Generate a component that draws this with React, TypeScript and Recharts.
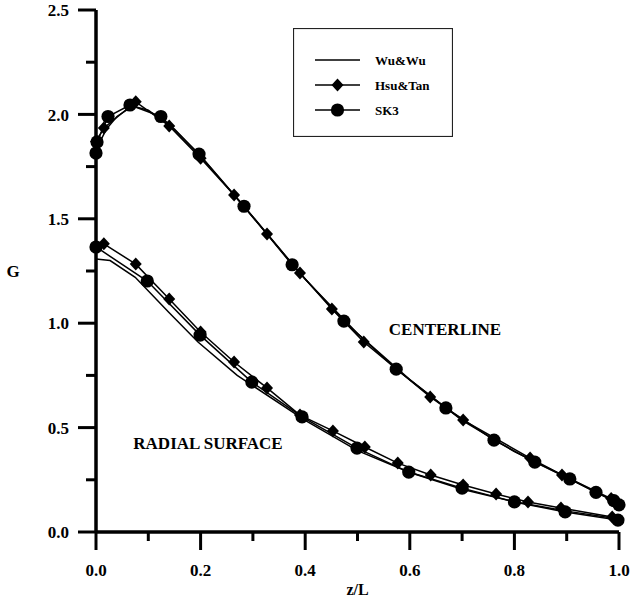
import React from 'react';
import { ScatterChart, Scatter, XAxis, YAxis, Legend, Customized } from 'recharts';

const FONT = '"Liberation Serif", "Times New Roman", Times, serif';

const xTicks = [0, 0.1, 0.2, 0.3, 0.4, 0.5, 0.6, 0.7, 0.8, 0.9, 1.0];
const yTicks = [0, 0.25, 0.5, 0.75, 1.0, 1.25, 1.5, 1.75, 2.0, 2.25, 2.5];

const seriesNames = ['Wu&Wu', 'Hsu&Tan', 'SK3'];
const annotations = ['CENTERLINE', 'RADIAL SURFACE'];

// Centerline
const clWuX = [0, 0.02, 0.04, 0.07, 0.1, 0.15, 0.2, 0.3, 0.4, 0.5, 0.6, 0.7, 0.8, 0.9, 1.0];
const clWuY = [1.83, 1.93, 1.99, 2.04, 2.02, 1.93, 1.8, 1.51, 1.21, 0.95, 0.73, 0.535, 0.385, 0.262, 0.135];

const clHsuX = [0, 0.015, 0.076, 0.14, 0.2, 0.264, 0.327, 0.39, 0.451, 0.512, 0.639, 0.702, 0.83, 0.891, 0.985];
const clHsuY = [1.87, 1.935, 2.06, 1.945, 1.79, 1.614, 1.427, 1.24, 1.068, 0.91, 0.647, 0.536, 0.354, 0.273, 0.16];

const clSkX = [0, 0.002, 0.023, 0.065, 0.124, 0.197, 0.283, 0.375, 0.474, 0.574, 0.669, 0.761, 0.839, 0.906, 0.956, 0.99, 1.0];
const clSkY = [1.815, 1.868, 1.99, 2.045, 1.99, 1.81, 1.56, 1.28, 1.01, 0.78, 0.594, 0.44, 0.335, 0.254, 0.19, 0.15, 0.13];

// Radial surface
const rsWuX = [0, 0.027, 0.075, 0.14, 0.195, 0.27, 0.4, 0.5, 0.6, 0.7, 0.8, 0.9, 1.0];
const rsWuY = [1.307, 1.3, 1.22, 1.05, 0.91, 0.75, 0.535, 0.39, 0.285, 0.205, 0.145, 0.1, 0.062];

const rsHsuX = [0.015, 0.076, 0.14, 0.2, 0.264, 0.327, 0.39, 0.453, 0.514, 0.577, 0.64, 0.702, 0.765, 0.826, 0.889, 0.987];
const rsHsuY = [1.38, 1.283, 1.116, 0.958, 0.814, 0.69, 0.56, 0.484, 0.407, 0.33, 0.273, 0.225, 0.182, 0.144, 0.115, 0.072];

const rsSkX = [0, 0.098, 0.199, 0.298, 0.394, 0.499, 0.598, 0.7, 0.8, 0.897, 0.998];
const rsSkY = [1.365, 1.202, 0.943, 0.718, 0.551, 0.402, 0.287, 0.21, 0.144, 0.096, 0.057];

const toPts = (xs: number[], ys: number[]) => xs.map((x, i) => ({ x, y: ys[i] }));

const DiamondShape = (props: any) => {
  const { cx, cy } = props;
  if (cx == null || cy == null) return <g />;
  return <path d={`M${cx},${cy - 6.5}L${cx + 6},${cy}L${cx},${cy + 6.5}L${cx - 6},${cy}Z`} fill="#000" />;
};
const CircleShape = (props: any) => {
  const { cx, cy } = props;
  if (cx == null || cy == null) return <g />;
  return <circle cx={cx} cy={cy} r={6.6} fill="#000" />;
};
const NoShape = () => <g />;

const YTick = (props: any) => {
  const { x, y, payload } = props;
  const v = payload.value;
  const major = Math.abs(v * 2 - Math.round(v * 2)) < 1e-6;
  return (
    <g>
      <line x1={x - (major ? 18 : 10)} x2={x} y1={y} y2={y} stroke="#000" strokeWidth={3} />
      {major && (
        <text x={x - 27} y={y} dy="0.36em" textAnchor="end" fontFamily={FONT} fontWeight="bold" fontSize={17} fill="#000">
          {v.toFixed(1)}
        </text>
      )}
    </g>
  );
};

const XTick = (props: any) => {
  const { x, y, payload } = props;
  const v = payload.value;
  const major = Math.round(v * 10) % 2 === 0;
  return (
    <g>
      <line x1={x} x2={x} y1={y} y2={y + (major ? 18 : 9)} stroke="#000" strokeWidth={3} />
      {major && (
        <text x={x} y={y + 44} textAnchor="middle" fontFamily={FONT} fontWeight="bold" fontSize={17} fill="#000">
          {v.toFixed(1)}
        </text>
      )}
    </g>
  );
};

const renderLegend = () => {
  const rows = [32, 57, 82];
  return (
    <svg width={160} height={109} style={{ display: 'block' }}>
      <rect x={0.5} y={0.5} width={159} height={108} fill="#fff" stroke="#222" strokeWidth={1.2} />
      {seriesNames.map((name, i) => (
        <g key={name}>
          <line x1={22} x2={67} y1={rows[i]} y2={rows[i]} stroke="#000" strokeWidth={1.5} />
          {i === 1 && <DiamondShape cx={44.5} cy={rows[i]} />}
          {i === 2 && <CircleShape cx={44.5} cy={rows[i]} />}
          <text x={82} y={rows[i]} dy="0.36em" fontFamily={FONT} fontWeight="bold" fontSize={13} fill="#000">
            {name}
          </text>
        </g>
      ))}
    </svg>
  );
};

const Annotations = () => (
  <g>
    <text x={445} y={329} dy="0.36em" textAnchor="middle" fontFamily={FONT} fontWeight="bold" fontSize={17} fill="#000">
      {annotations[0]}
    </text>
    <text x={208} y={443} dy="0.36em" textAnchor="middle" fontFamily={FONT} fontWeight="bold" fontSize={17} fill="#000">
      {annotations[1]}
    </text>
  </g>
);

const lineStyle = { stroke: '#000', strokeWidth: 1.5 };

export default function App() {
  return (
    <div style={{ position: 'absolute', left: 0, top: 0, width: 631, height: 601, background: '#fff' }}>
      <ScatterChart width={631} height={601} margin={{ top: 10, right: 12, bottom: 0, left: 0 }}>
        <XAxis
          type="number"
          dataKey="x"
          domain={[0, 1]}
          ticks={xTicks}
          interval={0}
          tick={<XTick />}
          tickLine={false}
          tickSize={0}
          tickMargin={0}
          axisLine={{ stroke: '#000', strokeWidth: 3.5 }}
          height={69}
          label={{
            content: (p: any) => {
              const vb = p.viewBox || { x: 96, y: 532, width: 523, height: 69 };
              return (
                <text x={vb.x + vb.width / 2} y={vb.y + 63} textAnchor="middle" fontFamily={FONT} fontWeight="bold" fontSize={16} fill="#000">
                  z/L
                </text>
              );
            },
          }}
        />
        <YAxis
          type="number"
          dataKey="y"
          domain={[0, 2.5]}
          ticks={yTicks}
          interval={0}
          tick={<YTick />}
          tickLine={false}
          tickSize={0}
          tickMargin={0}
          axisLine={{ stroke: '#000', strokeWidth: 3.5 }}
          width={96}
          label={{
            content: (p: any) => {
              const vb = p.viewBox || { x: 0, y: 10, width: 96, height: 522 };
              return (
                <text x={vb.x + 13} y={vb.y + vb.height / 2} dy="0.36em" textAnchor="middle" fontFamily={FONT} fontWeight="bold" fontSize={17} fill="#000">
                  G
                </text>
              );
            },
          }}
        />
        <Scatter name="Wu&Wu centerline" data={toPts(clWuX, clWuY)} line={lineStyle} lineType="joint" shape={NoShape} isAnimationActive={false} legendType="none" />
        <Scatter name="Hsu&Tan centerline" data={toPts(clHsuX, clHsuY)} line={lineStyle} lineType="joint" shape={DiamondShape} isAnimationActive={false} legendType="none" />
        <Scatter name="SK3 centerline" data={toPts(clSkX, clSkY)} line={lineStyle} lineType="joint" shape={CircleShape} isAnimationActive={false} legendType="none" />
        <Scatter name="Wu&Wu radial" data={toPts(rsWuX, rsWuY)} line={lineStyle} lineType="joint" shape={NoShape} isAnimationActive={false} legendType="none" />
        <Scatter name="Hsu&Tan radial" data={toPts(rsHsuX, rsHsuY)} line={lineStyle} lineType="joint" shape={DiamondShape} isAnimationActive={false} legendType="none" />
        <Scatter name="SK3 radial" data={toPts(rsSkX, rsSkY)} line={lineStyle} lineType="joint" shape={CircleShape} isAnimationActive={false} legendType="none" />
        <Customized component={Annotations} />
        <Legend
          layout="vertical"
          align="center"
          verticalAlign="middle"
          content={renderLegend}
          wrapperStyle={{ left: 293, top: 28, width: 160, height: 109 }}
        />
      </ScatterChart>
    </div>
  );
}
